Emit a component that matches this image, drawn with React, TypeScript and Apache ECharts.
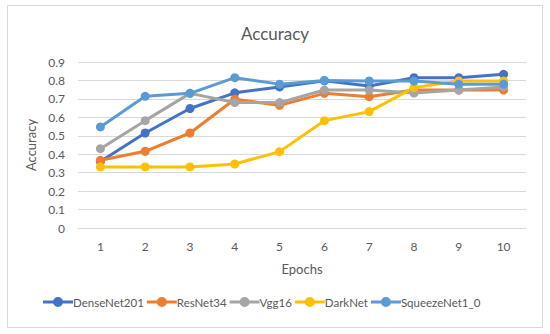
import React, { useEffect, useRef } from "react";
import * as echarts from "echarts";

const epochs = ["1", "2", "3", "4", "5", "6", "7", "8", "9", "10"];
const denseNet201 = [0.36, 0.515, 0.648, 0.733, 0.765, 0.798, 0.77, 0.815, 0.815, 0.833];
const resNet34 = [0.367, 0.416, 0.515, 0.698, 0.665, 0.73, 0.712, 0.748, 0.748, 0.748];
const vgg16 = [0.43, 0.582, 0.73, 0.68, 0.68, 0.748, 0.748, 0.732, 0.748, 0.765];
const darkNet = [0.331, 0.331, 0.331, 0.347, 0.414, 0.582, 0.631, 0.761, 0.797, 0.797];
const squeezeNet = [0.548, 0.714, 0.73, 0.815, 0.78, 0.8, 0.797, 0.797, 0.78, 0.78];

const seriesNames = ["DenseNet201", "ResNet34", "Vgg16", "DarkNet", "SqueezeNet1_0"];
const seriesData = [denseNet201, resNet34, vgg16, darkNet, squeezeNet];
const colors = ["#4472C4", "#ED7D31", "#A5A5A5", "#FFC000", "#5B9BD5"];

export default function App() {
  const ref = useRef<HTMLDivElement>(null);
  useEffect(() => {
    if (!ref.current) return;
    const chart = echarts.init(ref.current, undefined, { renderer: "svg" });
    const font = "Lato, 'Open Sans', sans-serif";
    chart.setOption({
      animation: false,
      backgroundColor: "#ffffff",
      textStyle: { fontFamily: font },
      title: {
        text: "Accuracy",
        left: "center",
        top: 20,
        textStyle: { fontSize: 17, fontWeight: "normal", color: "#595959", fontFamily: font },
      },
      graphic: [
        {
          type: "rect",
          shape: { x: 7.5, y: 5.5, width: 535, height: 322 },
          style: { fill: "none", stroke: "#d9d9d9", lineWidth: 1 },
          silent: true,
        },
      ],
      grid: { left: 78, right: 24, top: 62, bottom: 106 },
      legend: {
        bottom: 21,
        left: 38,
        itemWidth: 30,
        itemHeight: 10,
        itemGap: 3,
        icon: "path://M0,3.5 L30,3.5 L30,6.5 L0,6.5 Z M10,5 A5,5 0 1 1 20,5 A5,5 0 1 1 10,5 Z",
        data: seriesNames.map((n) => ({ name: n })),
        textStyle: { fontSize: 11.5, color: "#595959", fontFamily: font, padding: [0, 0, 0, -5] },
      },
      xAxis: {
        type: "category",
        data: epochs,
        name: "Epochs",
        nameLocation: "middle",
        nameGap: 34,
        nameTextStyle: { fontSize: 13, color: "#595959", fontFamily: font },
        axisLine: { show: true, lineStyle: { color: "#d9d9d9" } },
        axisTick: { show: false },
        axisLabel: { fontSize: 12, color: "#595959", margin: 12, fontFamily: font },
      },
      yAxis: {
        type: "value",
        min: 0,
        max: 0.9,
        interval: 0.1,
        name: "Accuracy",
        nameLocation: "middle",
        nameGap: 40,
        nameTextStyle: { fontSize: 13, color: "#595959", fontFamily: font },
        axisLine: { show: false },
        axisTick: { show: false },
        axisLabel: {
          fontSize: 12,
          color: "#595959",
          margin: 13,
          fontFamily: font,
          formatter: (v: number) => (v === 0 ? "0" : String(Math.round(v * 10) / 10)),
        },
        splitLine: { lineStyle: { color: "#d9d9d9" } },
      },
      series: seriesNames.map((name, i) => ({
        name,
        type: "line",
        data: seriesData[i],
        color: colors[i],
        symbol: "circle",
        symbolSize: 9,
        lineStyle: { width: 3, color: colors[i] },
        itemStyle: { color: colors[i] },
      })),
    });
    return () => chart.dispose();
  }, []);
  return (
    <div
      ref={ref}
      style={{ position: "fixed", left: 0, top: 0, width: 550, height: 334 }}
    />
  );
}
